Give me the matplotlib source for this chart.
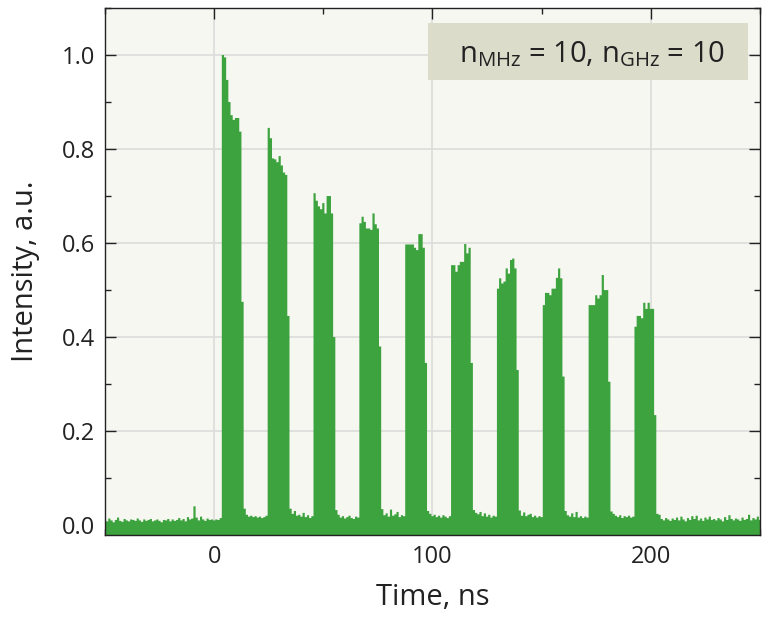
import numpy as np
import matplotlib
matplotlib.use("Agg")
import matplotlib.pyplot as plt
from matplotlib.patches import Rectangle
from matplotlib.ticker import MultipleLocator

plt.rcParams['font.family'] = ['Open Sans', 'DejaVu Sans']
plt.rcParams['mathtext.fontset'] = 'custom'
plt.rcParams['mathtext.rm'] = 'Open Sans'

# 1 ns bins, centres from -50 to 250 ns
time_ns = np.arange(-50, 251)

# background level (values under the pulses get overwritten below)
baseline = [
    0.012, 0.008, 0.014, 0.010, 0.006, 0.011, 0.016, 0.009, 0.007, 0.013,  # -50
    0.010, 0.008, 0.012, 0.011, 0.009, 0.014, 0.010, 0.007, 0.012, 0.009,  # -40
    0.011, 0.013, 0.008, 0.010, 0.012, 0.009, 0.006, 0.011, 0.010, 0.013,  # -30
    0.008, 0.012, 0.009, 0.011, 0.015, 0.010, 0.013, 0.008, 0.017, 0.012,  # -20
    0.014, 0.040, 0.016, 0.010, 0.018, 0.012, 0.009, 0.014, 0.011, 0.012,  # -10
    0.010, 0.012, 0.011, 0.015, 0.020, 0.020, 0.020, 0.020, 0.020, 0.020,  # 0
    0.020, 0.020, 0.020, 0.020, 0.035, 0.022, 0.018, 0.020, 0.017, 0.019,  # 10
    0.016, 0.018, 0.015, 0.017, 0.020, 0.020, 0.020, 0.020, 0.020, 0.020,  # 20
    0.020, 0.020, 0.020, 0.020, 0.020, 0.035, 0.024, 0.030, 0.020, 0.022,  # 30
    0.018, 0.026, 0.017, 0.021, 0.015, 0.019, 0.020, 0.020, 0.020, 0.020,  # 40
    0.020, 0.020, 0.020, 0.020, 0.020, 0.020, 0.032, 0.022, 0.016, 0.019,  # 50
    0.014, 0.017, 0.020, 0.015, 0.013, 0.018, 0.016, 0.020, 0.020, 0.020,  # 60
    0.020, 0.020, 0.020, 0.020, 0.020, 0.020, 0.020, 0.034, 0.021, 0.025,  # 70
    0.018, 0.033, 0.020, 0.023, 0.028, 0.017, 0.021, 0.019, 0.020, 0.020,  # 80
    0.020, 0.020, 0.020, 0.020, 0.020, 0.020, 0.020, 0.020, 0.030, 0.024,  # 90
    0.019, 0.022, 0.017, 0.020, 0.016, 0.021, 0.018, 0.015, 0.019, 0.020,  # 100
    0.020, 0.020, 0.020, 0.020, 0.020, 0.020, 0.020, 0.020, 0.020, 0.032,  # 110
    0.026, 0.023, 0.028, 0.019, 0.025, 0.018, 0.022, 0.016, 0.020, 0.018,  # 120
    0.020, 0.020, 0.020, 0.020, 0.020, 0.020, 0.020, 0.020, 0.020, 0.020,  # 130
    0.031, 0.020, 0.027, 0.019, 0.022, 0.024, 0.017, 0.020, 0.016, 0.019,  # 140
    0.017, 0.020, 0.020, 0.020, 0.020, 0.020, 0.020, 0.020, 0.020, 0.020,  # 150
    0.020, 0.030, 0.021, 0.018, 0.025, 0.017, 0.028, 0.016, 0.019, 0.015,  # 160
    0.018, 0.016, 0.020, 0.020, 0.020, 0.020, 0.020, 0.020, 0.020, 0.020,  # 170
    0.020, 0.020, 0.029, 0.024, 0.020, 0.017, 0.021, 0.015, 0.019, 0.017,  # 180
    0.020, 0.016, 0.018, 0.020, 0.020, 0.020, 0.020, 0.020, 0.020, 0.020,  # 190
    0.020, 0.020, 0.020, 0.024, 0.022, 0.013, 0.010, 0.015, 0.012, 0.009,  # 200
    0.014, 0.011, 0.016, 0.010, 0.018, 0.012, 0.008, 0.015, 0.011, 0.019,  # 210
    0.013, 0.020, 0.010, 0.014, 0.009, 0.016, 0.012, 0.018, 0.011, 0.013,  # 220
    0.010, 0.015, 0.012, 0.008, 0.017, 0.011, 0.021, 0.013, 0.010, 0.014,  # 230
    0.012, 0.009, 0.016, 0.011, 0.013, 0.022, 0.010, 0.015, 0.012, 0.018,  # 240
    0.011,                                                                  # 250
]

# first bin of each pulse (ns) and its profile (last value = falling shoulder)
pulse_start_ns = [4, 25, 46, 67, 88, 109, 130, 151, 172, 193]
pulse_profiles = [
    [1.000, 0.995, 0.947, 0.900, 0.872, 0.862, 0.866, 0.866, 0.837, 0.475],
    [0.845, 0.823, 0.780, 0.778, 0.772, 0.785, 0.765, 0.750, 0.745, 0.445],
    [0.706, 0.690, 0.678, 0.672, 0.685, 0.663, 0.700, 0.700, 0.663, 0.400],
    [0.642, 0.656, 0.645, 0.631, 0.631, 0.628, 0.663, 0.640, 0.631, 0.380],
    [0.597, 0.597, 0.597, 0.597, 0.590, 0.585, 0.619, 0.619, 0.590, 0.345],
    [0.553, 0.553, 0.539, 0.553, 0.560, 0.560, 0.598, 0.578, 0.590, 0.345],
    [0.503, 0.525, 0.514, 0.518, 0.546, 0.535, 0.564, 0.567, 0.546, 0.330],
    [0.468, 0.494, 0.494, 0.489, 0.503, 0.503, 0.526, 0.546, 0.525, 0.316],
    [0.468, 0.468, 0.468, 0.489, 0.482, 0.489, 0.532, 0.500, 0.500, 0.305],
    [0.422, 0.445, 0.445, 0.440, 0.473, 0.460, 0.473, 0.460, 0.460, 0.234],
]

intensity = np.array(baseline, dtype=float)
for start, prof in zip(pulse_start_ns, pulse_profiles):
    i = start - time_ns[0]
    intensity[i:i + len(prof)] = prof

edges = np.append(time_ns - 0.5, time_ns[-1] + 0.5)
green = '#3da33e'

fig = plt.figure(figsize=(7.68, 6.26), dpi=100)
ax = fig.add_axes([0.1367, 0.1454, 0.8529, 0.8418])
ax.set_facecolor('#f7f7f2')
ax.set_axisbelow(True)
ax.grid(True, which='major', color='#dcdcdc', lw=1.2)

ax.fill_between(edges, np.append(intensity, intensity[-1]), -0.05,
                step='post', facecolor=green, edgecolor='none', lw=0)

ax.set_xlim(-50, 250)
ax.set_ylim(-0.021, 1.1)
ax.xaxis.set_major_locator(MultipleLocator(100))
ax.xaxis.set_minor_locator(MultipleLocator(50))
ax.yaxis.set_major_locator(MultipleLocator(0.2))
ax.yaxis.set_minor_locator(MultipleLocator(0.1))
ax.tick_params(which='both', direction='in', top=True, right=True,
               width=1, colors='#222222', labelsize=17)
ax.tick_params(which='major', length=8, pad=7)
ax.tick_params(which='minor', length=4)
for s in ax.spines.values():
    s.set_color('#222222')
    s.set_linewidth(1)
    s.set_zorder(5)

ax.set_xlabel('Time, ns', fontsize=21, color='#222222', labelpad=10)
ax.set_ylabel('Intensity, a.u.', fontsize=21, color='#222222', labelpad=16)

ax.add_patch(Rectangle((0.493, 0.8634), 0.489, 0.1081, transform=ax.transAxes,
                       facecolor='#dcdccb', edgecolor='none', zorder=3))
ax.text(0.7435, 0.9127, r'n$_\mathregular{MHz}$ = 10, n$_\mathregular{GHz}$ = 10',
        transform=ax.transAxes, ha='center', va='center', fontsize=21,
        color='#222222', zorder=4)

fig.savefig('out.png', dpi=100)
